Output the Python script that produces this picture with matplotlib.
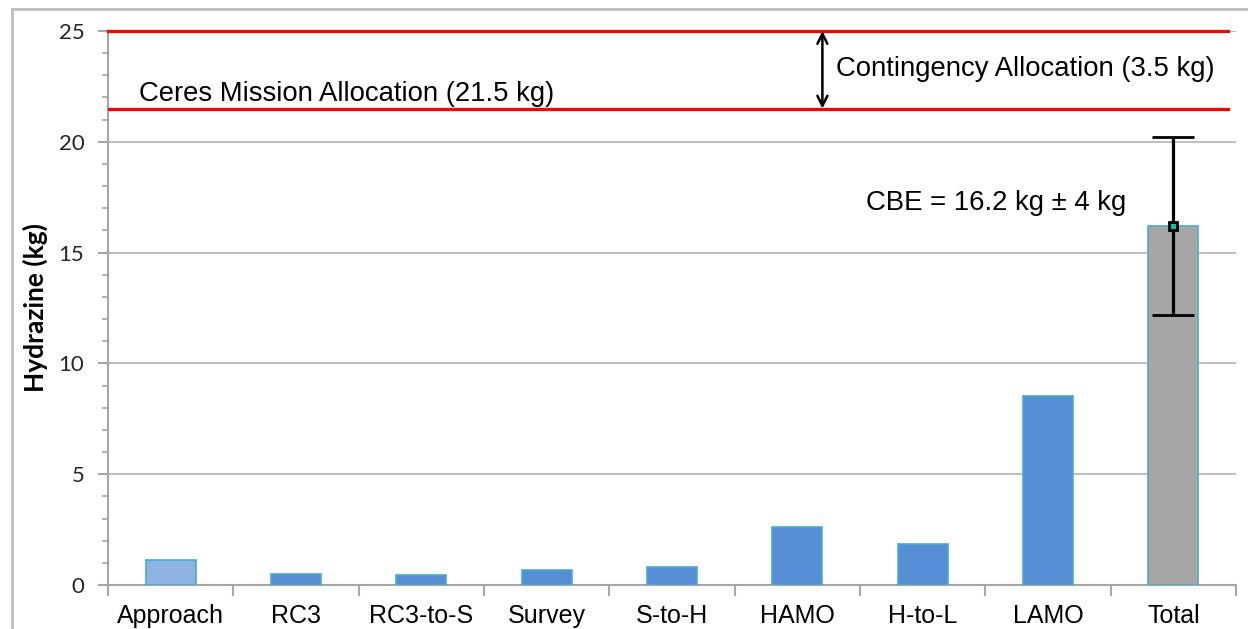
import numpy as np
import matplotlib
matplotlib.use('Agg')
import matplotlib.pyplot as plt
from matplotlib.lines import Line2D

phases = ['Approach', 'RC3', 'RC3-to-S', 'Survey', 'S-to-H', 'HAMO', 'H-to-L', 'LAMO', 'Total']
hydrazine = [1.13, 0.5, 0.45, 0.68, 0.8, 2.62, 1.85, 8.53, 16.2]
bar_colors = ['#8db4e2', '#558ed5', '#558ed5', '#558ed5', '#558ed5', '#558ed5', '#558ed5', '#558ed5', '#a6a6a6']
cbe = 16.2
cbe_err = 4.0
mission_alloc = 21.5
total_alloc = 25.0

fig = plt.figure(figsize=(12.48, 6.29), dpi=100)
ax = fig.add_axes([108 / 1248, 1 - 585 / 629, (1236 - 108) / 1248, (585 - 31) / 629])

# outer frame (left and top edge visible)
fig.add_artist(Line2D([12 / 1248, 12 / 1248], [0, 1 - 9 / 629], color='#bfbfbf', lw=2, transform=fig.transFigure))
fig.add_artist(Line2D([12 / 1248, 1], [1 - 9 / 629, 1 - 9 / 629], color='#bfbfbf', lw=2, transform=fig.transFigure))

x = np.arange(len(phases))
ax.bar(x, hydrazine, width=0.4, color=bar_colors, edgecolor='#4bacc6', linewidth=1.2, zorder=3)

ax.errorbar([x[-1]], [cbe], yerr=cbe_err, fmt='s', color='black', ecolor='black', elinewidth=2.3,
            capsize=15, capthick=2.3, markersize=6, markerfacecolor='#1abc9c', markeredgecolor='black',
            markeredgewidth=2, zorder=5)

ax.set_xlim(-0.5, len(phases) - 0.5)
ax.set_ylim(0, 25)

# allocation lines
ax.axhline(total_alloc, xmax=0.993, color='red', lw=2.3, zorder=4, clip_on=False)
ax.axhline(mission_alloc, xmax=0.993, color='red', lw=2.3, zorder=4)
ax.annotate('', xy=(5.2, total_alloc), xytext=(5.2, mission_alloc),
            arrowprops=dict(arrowstyle='<->', color='black', lw=1.8, mutation_scale=18,
                            shrinkA=0, shrinkB=0), zorder=6)

ax.text(-0.25, 22.15, 'Ceres Mission Allocation (21.5 kg)', fontsize=19.8, family='Liberation Sans', va='center')
ax.text(5.31, 23.3, 'Contingency Allocation (3.5 kg)', fontsize=19.8, family='Liberation Sans', va='center')
ax.text(5.55, 17.25, 'CBE = 16.2 kg \u00b1 4 kg', fontsize=19.8, family='Liberation Sans', va='center')

ax.set_yticks([0, 5, 10, 15, 20, 25])
ax.set_yticks(np.arange(0, 26, 1), minor=True)
ax.set_yticklabels(['0', '5', '10', '15', '20', '25'], fontsize=16, family='Lato', color='#262626')
ax.yaxis.grid(True, which='major', color='#c0c0c0', lw=1.5, zorder=0)
ax.tick_params(axis='y', which='major', length=7, width=1.5, color='#a6a6a6', pad=10)
ax.tick_params(axis='y', which='minor', length=4, width=1.2, color='#a6a6a6')

ax.set_xticks(x)
ax.set_xticklabels(phases, fontsize=18, family='Liberation Sans')
ax.set_xticks(np.arange(-0.5, len(phases), 1), minor=True)
ax.tick_params(axis='x', which='major', length=0, pad=14)
ax.tick_params(axis='x', which='minor', length=8, width=1.5, color='#a6a6a6')

ax.set_ylabel('Hydrazine (kg)', fontsize=19, family='Lato', fontweight='bold', labelpad=8)

for s in ['top', 'right']:
    ax.spines[s].set_visible(False)
for s in ['left', 'bottom']:
    ax.spines[s].set_color('#a6a6a6')
    ax.spines[s].set_linewidth(1.5)

fig.savefig('out.png', dpi=100)
